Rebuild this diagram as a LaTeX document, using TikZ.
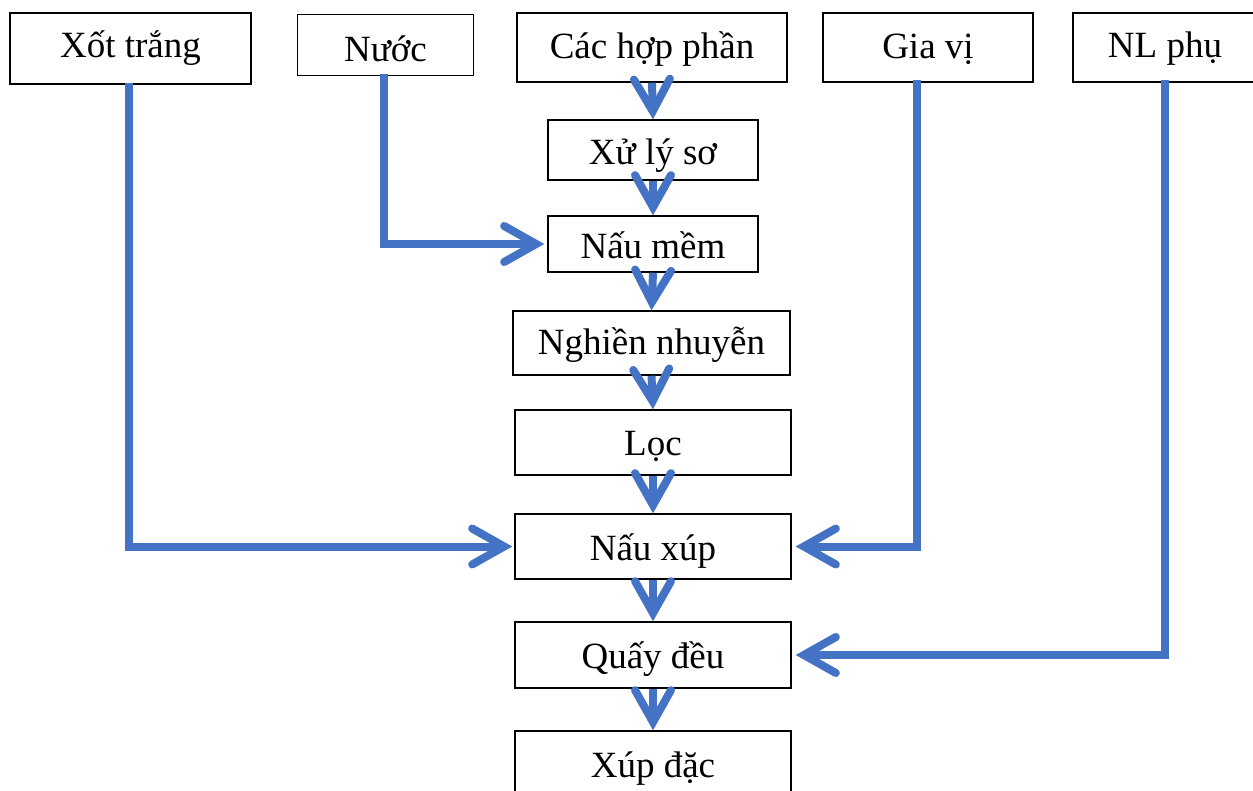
\documentclass[tikz,border=0pt]{standalone}
\usepackage{fontspec}
\setmainfont{Liberation Serif}
\usetikzlibrary{arrows.meta}
\definecolor{flowblue}{HTML}{4472C4}

\begin{document}
\begin{tikzpicture}[x=1pt,y=-1pt,
  box/.style={draw,line width=1.4pt,inner sep=0pt,text height=26pt,text depth=0pt,
    font=\fontsize{37}{44}\selectfont},
  flow/.style={draw=flowblue,line width=8pt,line join=miter,
    -{Straight Barb[length=32pt,width=36pt,line cap=round,line join=miter]}}]
\useasboundingbox (0,0) rectangle (1253,791);
% inputs
\node[box,minimum width=241pt,minimum height=71pt,text height=19pt] (xot) at (130.5,48.5) {Xốt trắng};
\node[box,minimum width=176pt,minimum height=61pt,text height=33pt] (nuoc) at (385.5,45) {Nước};
\node[box,minimum width=270pt,minimum height=69pt,text height=22pt] (hop) at (652,47.5) {Các hợp phần};
\node[box,minimum width=210pt,minimum height=69pt,text height=23pt] (giavi) at (928,47.5) {Gia vị};
\node[box,minimum width=184pt,minimum height=69pt,text height=21pt] (nlphu) at (1165,47.5) {NL phụ};
% main steps
\node[box,minimum width=210pt,minimum height=60pt,text height=30pt] (xuly) at (653,150) {Xử lý sơ};
\node[box,minimum width=210pt,minimum height=56pt,text height=30pt] (naumem) at (653,244) {Nấu mềm};
\node[box,minimum width=277pt,minimum height=64pt,text height=24pt] (nghien) at (651.5,343) {Nghiền nhuyễn};
\node[box,minimum width=276pt,minimum height=65pt,text height=25pt] (loc) at (653,442.5) {Lọc};
\node[box,minimum width=276pt,minimum height=65pt,text height=27pt] (nauxup) at (653,546.5) {Nấu xúp};
\node[box,minimum width=276pt,minimum height=66pt] (quay) at (653,655) {Quấy đều};
\node[box,minimum width=276pt,minimum height=66pt] (xupdac) at (653,764) {Xúp đặc};

\foreach \a/\b in {hop/xuly,xuly/naumem,naumem/nghien,nghien/loc,loc/nauxup,nauxup/quay,quay/xupdac}
  \draw[flow] (\a.south) -- (\b.north);

% side feeds
\draw[flow] ([xshift=-2pt,yshift=2pt]xot.south) |- ([xshift=-2pt]nauxup.west);
\draw[flow] ([xshift=-2pt,yshift=2pt]nuoc.south) |- ([xshift=-3pt]naumem.west);
\draw[flow] ([xshift=-11pt,yshift=3pt]giavi.south) |- ([xshift=4pt]nauxup.east);
\draw[flow] ([yshift=3pt]nlphu.south) |- ([xshift=4pt]quay.east);
\end{tikzpicture}
\end{document}
